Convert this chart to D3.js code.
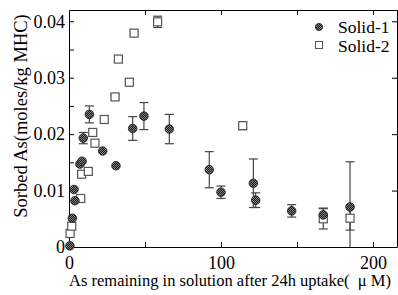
<!DOCTYPE html>
<html>
<head>
<meta charset="utf-8">
<script src="https://cdn.jsdelivr.net/npm/d3@7"></script>
<style>
  body { margin: 0; background: #fff; }
</style>
</head>
<body>
<svg id="chart" width="398" height="295"></svg>
<script>
// Solid-1 (circles): remaining conc (uM), sorbed As, error
const solid1X   = [0.6, 2.2, 3.3, 3.9, 7.2, 8.6, 9.4, 13.4, 22.2, 30.9, 41.9, 49.3, 66.0, 92.3, 100.0, 121.3, 122.8, 146.5, 167.3, 184.9];
const solid1Y   = [0.0002, 0.0051, 0.0102, 0.0082, 0.0147, 0.0152, 0.0193, 0.0235, 0.0170, 0.0144, 0.0210, 0.0232, 0.0209, 0.0137, 0.0097, 0.0113, 0.0083, 0.0064, 0.0057, 0.0071];
const solid1Err = [0, 0, 0, 0, 0, 0, 0.0010, 0.0015, 0, 0, 0.0021, 0.0024, 0.0026, 0.0032, 0.0011, 0.0043, 0.0013, 0.0011, 0.0012, 0.0080];

// Solid-2 (squares)
const solid2X   = [0.7, 1.8, 7.7, 8.3, 12.7, 15.6, 17.1, 23.2, 30.3, 32.5, 39.7, 42.8, 58.3, 114.3, 167.3, 184.9];
const solid2Y   = [0.0024, 0.0037, 0.0086, 0.0129, 0.0134, 0.0203, 0.0184, 0.0226, 0.0266, 0.0333, 0.0292, 0.0379, 0.0399, 0.0215, 0.0050, 0.0051];
const solid2Err = [0, 0, 0, 0, 0, 0, 0, 0, 0.0004, 0, 0.0005, 0.0003, 0.0010, 0.0007, 0.0018, 0.0021];

const xTickLabels = [0, 100, 200];
const yTickLabels = [0, 0.01, 0.02, 0.03, 0.04];
const seriesNames = ['Solid-1', 'Solid-2'];

const serif = '"Liberation Serif", "DejaVu Serif", serif';

const svg = d3.select('#chart');
const margin = { top: 10, right: 1, bottom: 48, left: 69 };
const width = +svg.attr('width');
const height = +svg.attr('height');

const x = d3.scaleLinear().domain([0, 215.8]).range([margin.left, width - margin.right]);
const y = d3.scaleLinear().domain([0, 0.042]).range([height - margin.bottom, margin.top]);

// checker texture for the filled circles
const pat = svg.append('defs').append('pattern')
  .attr('id', 'checker').attr('width', 2).attr('height', 2)
  .attr('patternUnits', 'userSpaceOnUse');
pat.append('rect').attr('width', 2).attr('height', 2).attr('fill', '#1a1a1a');
pat.append('rect').attr('width', 1).attr('height', 1).attr('fill', '#808080');
pat.append('rect').attr('x', 1).attr('y', 1).attr('width', 1).attr('height', 1).attr('fill', '#808080');

// frame + inward ticks
const tickLen = 5;
const frame = svg.append('g');
const fmtY = d => d === 0 ? '0' : d3.format('.2f')(d);

const bottomAxis = frame.append('g')
  .attr('transform', `translate(0,${y(0)})`)
  .call(d3.axisBottom(x).tickValues([0, 50, 100, 150, 200]).tickSizeInner(-tickLen).tickSizeOuter(0)
    .tickFormat(d => xTickLabels.includes(d) ? d : ''));
bottomAxis.selectAll('text').attr('font-size', 18).attr('dy', '1.05em');

frame.append('g')
  .attr('transform', `translate(0,${margin.top})`)
  .call(d3.axisTop(x).tickValues([50, 100, 150, 200]).tickSizeInner(-tickLen).tickSizeOuter(0).tickFormat(''));

const leftAxis = frame.append('g')
  .attr('transform', `translate(${margin.left},0)`)
  .call(d3.axisLeft(y).tickValues(d3.range(0, 0.0401, 0.005)).tickSizeInner(-tickLen).tickSizeOuter(0)
    .tickFormat(d => yTickLabels.some(v => Math.abs(v - d) < 1e-9) ? fmtY(Math.round(d * 100) / 100) : ''));
leftAxis.selectAll('text').attr('font-size', 18).attr('x', -4);

frame.append('g')
  .attr('transform', `translate(${width - margin.right},0)`)
  .call(d3.axisRight(y).tickValues([0.01, 0.02, 0.03, 0.04]).tickSizeInner(-tickLen).tickSizeOuter(0).tickFormat(''));

frame.selectAll('g').attr('font-family', null).attr('font-size', null);
frame.selectAll('.domain').attr('stroke', '#000');
frame.selectAll('.tick line').attr('stroke', '#000');

// error bars
const errG = svg.append('g').attr('stroke', '#444').attr('stroke-width', 1.2);
const drawErr = (xs, ys, es) => {
  xs.forEach((xv, i) => {
    const e = es[i];
    if (!e) return;
    const cx = x(xv);
    const y0 = Math.min(y(ys[i] - e), y(0));
    const y1 = y(ys[i] + e);
    errG.append('line').attr('x1', cx).attr('x2', cx).attr('y1', y0).attr('y2', y1);
    errG.append('line').attr('x1', cx - 4.5).attr('x2', cx + 4.5).attr('y1', y1).attr('y2', y1);
    if (y(ys[i] - e) <= y(0)) {
      errG.append('line').attr('x1', cx - 4.5).attr('x2', cx + 4.5).attr('y1', y0).attr('y2', y0);
    }
  });
};
drawErr(solid1X, solid1Y, solid1Err);
drawErr(solid2X, solid2Y, solid2Err);

// Solid-2 squares
svg.append('g').selectAll('rect')
  .data(solid2X.map((d, i) => [d, solid2Y[i]]))
  .enter().append('rect')
    .attr('x', d => x(d[0]) - 4)
    .attr('y', d => y(d[1]) - 4)
    .attr('width', 8).attr('height', 8)
    .attr('fill', '#fff').attr('stroke', '#555').attr('stroke-width', 1.2);

// Solid-1 circles
svg.append('g').selectAll('circle')
  .data(solid1X.map((d, i) => [d, solid1Y[i]]))
  .enter().append('circle')
    .attr('cx', d => x(d[0]))
    .attr('cy', d => y(d[1]))
    .attr('r', 4.3)
    .attr('fill', 'url(#checker)').attr('stroke', '#1a1a1a').attr('stroke-width', 0.8);

// legend
const lg = svg.append('g');
lg.append('circle').attr('cx', 319).attr('cy', 27).attr('r', 3.6)
  .attr('fill', 'url(#checker)').attr('stroke', '#1a1a1a').attr('stroke-width', 0.8);
lg.append('rect').attr('x', 315.5).attr('y', 41.5).attr('width', 7).attr('height', 7)
  .attr('fill', '#fff').attr('stroke', '#555').attr('stroke-width', 1);
lg.selectAll('text').data(seriesNames).enter().append('text')
  .attr('x', 338).attr('y', (d, i) => 33 + i * 18.5)
  .attr('font-size', 17.5)
  .text(d => d);

// axis titles
svg.append('text')
  .attr('x', 230).attr('y', 286)
  .attr('text-anchor', 'middle')
  .attr('font-size', 16.5)
  .text('As remaining in solution after 24h uptake(\u00a0\u00a0μ M)');

svg.append('text')
  .attr('transform', `translate(27,${(10 + 222) / 2}) rotate(-90)`)
  .attr('text-anchor', 'middle')
  .attr('font-size', 18.5)
  .text('Sorbed As(moles/kg MHC)');

svg.selectAll('text').attr('font-family', serif).attr('fill', '#000');
</script>
</body>
</html>
